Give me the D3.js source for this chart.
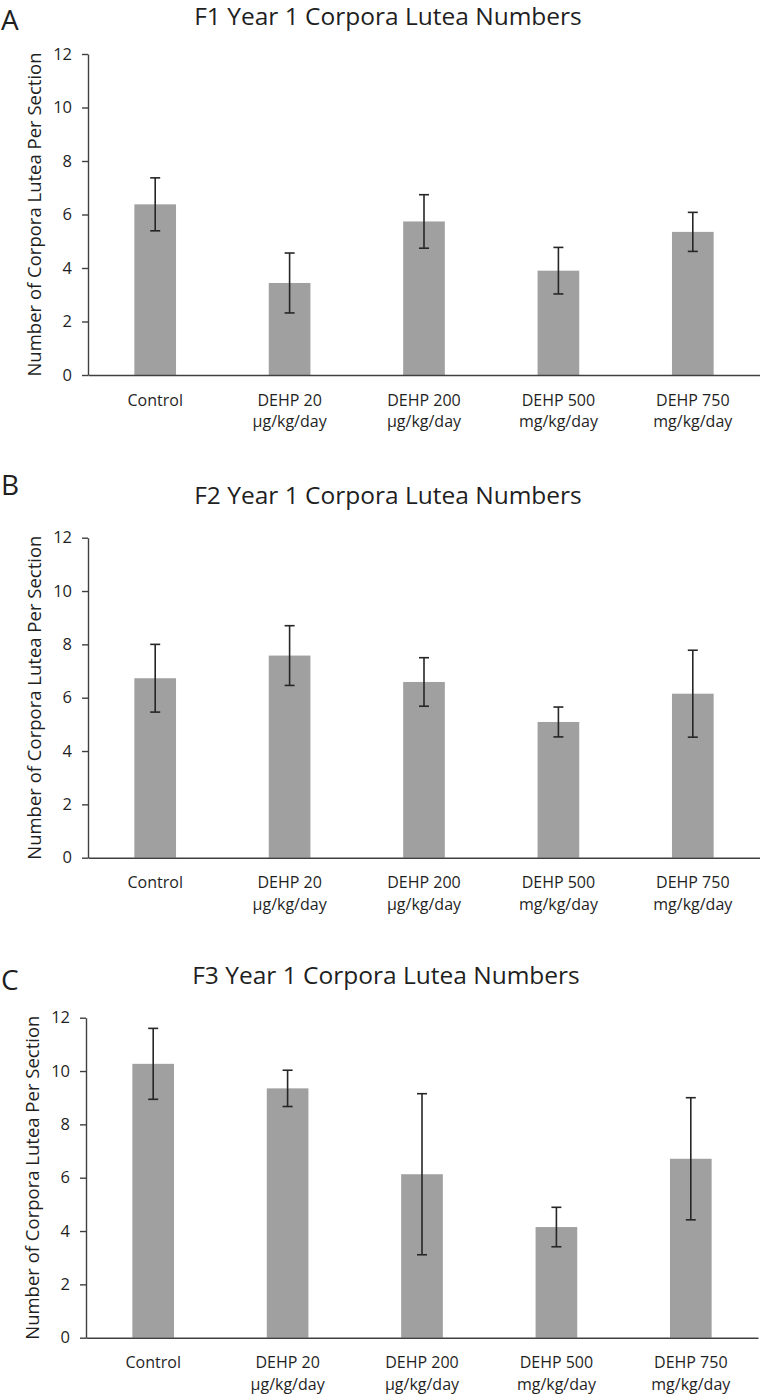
<!DOCTYPE html>
<html>
<head>
<meta charset="utf-8">
<script src="https://cdn.jsdelivr.net/npm/d3@7"></script>
<style>
  html, body { margin: 0; padding: 0; background: #fff; }
  svg { display: block; font-family: "Open Sans", "Noto Sans", sans-serif; }
</style>
</head>
<body>
<svg id="chart" width="760" height="1395"></svg>
<script>
// ---- Data ----
const categories = ["Control", "DEHP 20", "DEHP 200", "DEHP 500", "DEHP 750"];
const doseUnits = ["", "\u00B5g/kg/day", "\u00B5g/kg/day", "mg/kg/day", "mg/kg/day"];
const yTicks = [0, 2, 4, 6, 8, 10, 12];

const f1Means  = [6.38, 3.44, 5.74, 3.90, 5.35];
const f1Errors = [0.99, 1.12, 1.00, 0.87, 0.73];

const f2Means  = [6.73, 7.58, 6.59, 5.09, 6.15];
const f2Errors = [1.27, 1.12, 0.91, 0.56, 1.63];

const f3Means  = [10.27, 9.35, 6.13, 4.15, 6.71];
const f3Errors = [1.33, 0.68, 3.02, 0.74, 2.29];

const panelTitles  = ["F1 Year 1 Corpora Lutea Numbers", "F2 Year 1 Corpora Lutea Numbers", "F3 Year 1 Corpora Lutea Numbers"];
const panelLetters = ["A", "B", "C"];
const yLabel = "Number of Corpora Lutea Per Section";

// ---- Layout ----
const panels = [
  { means: f1Means, errors: f1Errors, top: 54,    bottom: 375,    left: 88, right: 760, titleY: 25,  letterY: 30,  titleX: 388, ylabX: 41 },
  { means: f2Means, errors: f2Errors, top: 537.7, bottom: 857.7,  left: 88, right: 760, titleY: 504, letterY: 495, titleX: 388, ylabX: 41 },
  { means: f3Means, errors: f3Errors, top: 1017.7, bottom: 1337.7, left: 86, right: 758, titleY: 984, letterY: 990, titleX: 386, ylabX: 39 }
];

const svg = d3.select("#chart");
const textColor = "#1f1f1f";
const axisColor = "#404040";
const barColor = "#a0a0a0";
const errColor = "#262626";

panels.forEach((p, i) => {
  const g = svg.append("g");
  const data = categories.map((c, j) => ({ cat: c, unit: doseUnits[j], mean: p.means[j], err: p.errors[j] }));

  const x = d3.scaleBand().domain(categories).range([p.left, p.right]).paddingInner(0.69).paddingOuter(0.345);
  const y = d3.scaleLinear().domain([0, 12]).range([p.bottom, p.top]);

  // Panel letter
  g.append("text")
    .attr("x", 1).attr("y", p.letterY)
    .attr("font-size", 28).attr("fill", textColor)
    .text(panelLetters[i]);

  // Title
  g.append("text")
    .attr("x", p.titleX).attr("y", p.titleY)
    .attr("text-anchor", "middle")
    .attr("font-size", 24.5).attr("fill", textColor)
    .text(panelTitles[i]);

  // Bars
  g.selectAll("rect.bar").data(data).join("rect")
    .attr("class", "bar")
    .attr("x", d => x(d.cat))
    .attr("width", x.bandwidth())
    .attr("y", d => y(d.mean))
    .attr("height", d => y(0) - y(d.mean))
    .attr("fill", barColor);

  // Error bars
  const cap = 5;
  const eg = g.selectAll("g.err").data(data).join("g").attr("class", "err")
    .attr("stroke", errColor).attr("stroke-width", 1.6);
  eg.append("line")
    .attr("x1", d => x(d.cat) + x.bandwidth() / 2).attr("x2", d => x(d.cat) + x.bandwidth() / 2)
    .attr("y1", d => y(d.mean + d.err)).attr("y2", d => y(d.mean - d.err));
  eg.append("line")
    .attr("x1", d => x(d.cat) + x.bandwidth() / 2 - cap).attr("x2", d => x(d.cat) + x.bandwidth() / 2 + cap)
    .attr("y1", d => y(d.mean + d.err)).attr("y2", d => y(d.mean + d.err));
  eg.append("line")
    .attr("x1", d => x(d.cat) + x.bandwidth() / 2 - cap).attr("x2", d => x(d.cat) + x.bandwidth() / 2 + cap)
    .attr("y1", d => y(d.mean - d.err)).attr("y2", d => y(d.mean - d.err));

  // Y axis
  const ya = g.append("g")
    .attr("transform", `translate(${p.left},0)`)
    .call(d3.axisLeft(y).tickValues(yTicks).tickSize(6).tickSizeOuter(0).tickPadding(10));
  ya.select(".domain").attr("stroke", axisColor).attr("stroke-width", 1.4);
  ya.selectAll(".tick line").attr("stroke", axisColor).attr("stroke-width", 1.4);
  ya.selectAll(".tick text").attr("font-size", 16.5).attr("fill", textColor)
    .attr("font-family", "'Open Sans', 'Noto Sans', sans-serif");

  // X axis
  const xa = g.append("g")
    .attr("transform", `translate(0,${p.bottom})`)
    .call(d3.axisBottom(x).tickSize(0).tickSizeOuter(0).tickPadding(0));
  xa.select(".domain").attr("stroke", axisColor).attr("stroke-width", 1.4);
  xa.selectAll(".tick text").each(function(d) {
    const t = d3.select(this);
    t.text(null).attr("y", 0).attr("dy", null)
      .attr("font-size", 16).attr("fill", textColor)
      .attr("font-family", "'Open Sans', 'Noto Sans', sans-serif");
    t.append("tspan").attr("x", 0).attr("y", 30.5).text(d);
    const u = doseUnits[categories.indexOf(d)];
    if (u) t.append("tspan").attr("x", 0).attr("y", 52).text(u);
  });

  // Y label
  g.append("text")
    .attr("transform", `translate(${p.ylabX},${(p.top + p.bottom) / 2}) rotate(-90)`)
    .attr("text-anchor", "middle")
    .attr("font-size", 18.5).attr("fill", textColor)
    .text(yLabel);
});
</script>
</body>
</html>
